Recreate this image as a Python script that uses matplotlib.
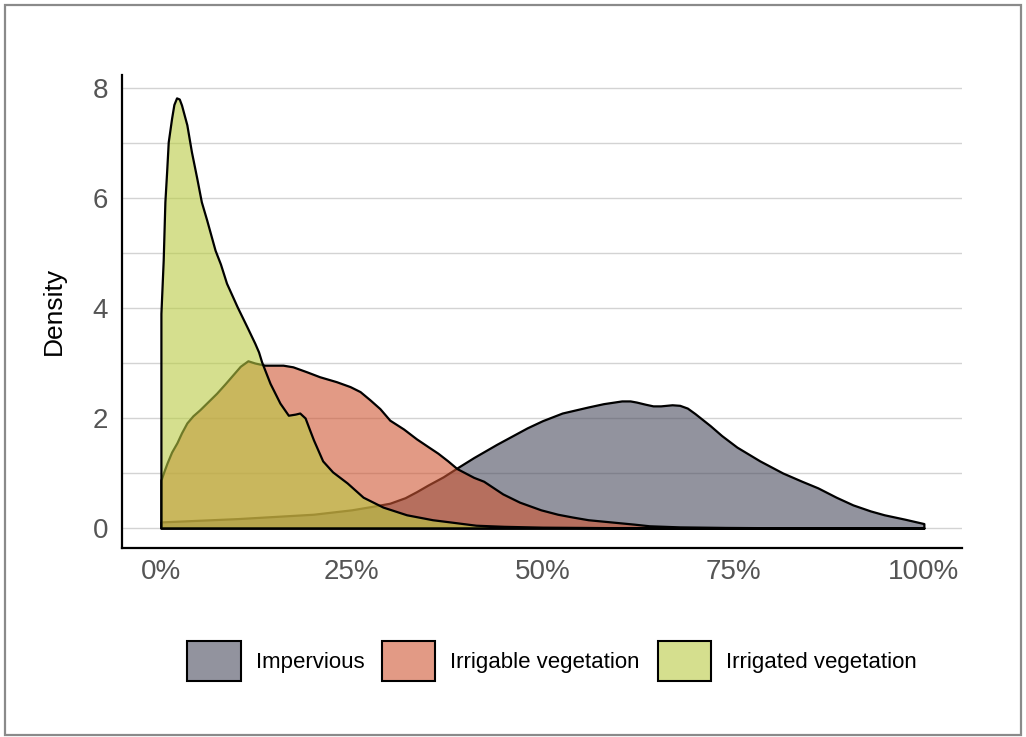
import matplotlib
matplotlib.use("Agg")
import matplotlib.pyplot as plt
from matplotlib.patches import Patch, Rectangle
from matplotlib.ticker import MultipleLocator

# ---- data (x as share 0..1, y density) ----
imp_x = [0, 0.05, 0.10, 0.15, 0.20, 0.25, 0.28, 0.30, 0.32, 0.335, 0.35, 0.37, 0.388,
         0.41, 0.44, 0.48, 0.50, 0.526, 0.56, 0.58, 0.604, 0.615, 0.623, 0.635, 0.645,
         0.655, 0.67, 0.68, 0.69, 0.70, 0.71, 0.72, 0.735, 0.755, 0.785, 0.815, 0.84,
         0.861, 0.885, 0.907, 0.93, 0.948, 0.975, 1.0]
imp_y = [0.11, 0.14, 0.17, 0.21, 0.25, 0.33, 0.40, 0.45, 0.55, 0.66, 0.78, 0.93, 1.09,
         1.28, 1.52, 1.82, 1.95, 2.09, 2.20, 2.26, 2.31, 2.31, 2.29, 2.25, 2.22,
         2.22, 2.24, 2.23, 2.18, 2.08, 1.97, 1.86, 1.68, 1.47, 1.22, 1.00, 0.85,
         0.73, 0.56, 0.42, 0.31, 0.24, 0.16, 0.08]

irb_x = [0, 0.004, 0.008, 0.014, 0.021, 0.027, 0.034, 0.042, 0.051, 0.062, 0.073,
         0.084, 0.094, 0.104, 0.114, 0.123, 0.136, 0.16, 0.173, 0.191, 0.208, 0.23,
         0.248, 0.261, 0.274, 0.287, 0.30, 0.318, 0.335, 0.35, 0.363, 0.376, 0.388,
         0.41, 0.423, 0.448, 0.47, 0.498, 0.52, 0.539, 0.56, 0.59, 0.62, 0.64, 0.68,
         0.74, 0.80, 0.90, 1.0]
irb_y = [0.87, 1.03, 1.18, 1.38, 1.55, 1.73, 1.91, 2.04, 2.15, 2.30, 2.45,
         2.62, 2.78, 2.94, 3.04, 3.00, 2.96, 2.96, 2.93, 2.84, 2.75, 2.66,
         2.57, 2.48, 2.33, 2.17, 1.96, 1.80, 1.62, 1.48, 1.36, 1.22, 1.08,
         0.92, 0.85, 0.62, 0.47, 0.33, 0.25, 0.20, 0.15, 0.11, 0.07, 0.04, 0.02,
         0.01, 0.005, 0.002, 0.0]

irr_x = [0, 0.003, 0.0052, 0.0075, 0.0096, 0.014, 0.017, 0.0205, 0.024, 0.027, 0.034,
         0.040, 0.047, 0.053, 0.06, 0.071, 0.078, 0.086, 0.10, 0.113, 0.123, 0.128,
         0.132, 0.143, 0.156, 0.167, 0.176, 0.182, 0.189, 0.195, 0.20, 0.212, 0.225,
         0.244, 0.265, 0.291, 0.322, 0.356, 0.379, 0.413, 0.45, 0.50, 0.60, 0.80, 1.0]
irr_y = [3.9, 4.87, 5.93, 6.48, 7.02, 7.45, 7.70, 7.82, 7.80, 7.69, 7.33,
         6.84, 6.36, 5.93, 5.60, 5.05, 4.80, 4.45, 4.02, 3.65, 3.36, 3.20,
         3.02, 2.63, 2.27, 2.05, 2.07, 2.09, 2.00, 1.78, 1.60, 1.22, 1.02,
         0.82, 0.56, 0.38, 0.24, 0.15, 0.11, 0.05, 0.03, 0.015, 0.005, 0.0, 0.0]

series_names = ["Impervious", "Irrigable vegetation", "Irrigated vegetation"]
series_colors = [(73/255, 75/255, 93/255), (207/255, 87/255, 52/255), (185/255, 203/255, 67/255)]
ALPHA = 0.6

x_ticks = [0, 0.25, 0.5, 0.75, 1.0]
x_tick_labels = ["0%", "25%", "50%", "75%", "100%"]
y_ticks = [0, 2, 4, 6, 8]

plt.rcParams['font.family'] = ['Liberation Sans', 'DejaVu Sans']

W, H = 1026, 737
fig = plt.figure(figsize=(W / 100, H / 100), dpi=100)
ax = fig.add_axes([122 / W, 1 - 548 / H, (962 - 122) / W, (548 - 75) / H])

for xs, ys, c in zip([imp_x, irb_x, irr_x], [imp_y, irb_y, irr_y], series_colors):
    ax.fill_between(xs, 0, ys, facecolor=(*c, ALPHA), edgecolor='black',
                    linewidth=1.6, joinstyle='round', zorder=3)

ax.set_xlim(-0.051, 1.05)
ax.set_ylim(-0.364, 8.236)
ax.set_xticks(x_ticks)
ax.set_xticklabels(x_tick_labels)
ax.set_yticks(y_ticks)
ax.yaxis.set_minor_locator(MultipleLocator(1))
ax.tick_params(axis='both', which='both', length=0, labelsize=20, labelcolor='#555555')
ax.tick_params(axis='x', pad=8)
ax.tick_params(axis='y', pad=10)

ax.set_axisbelow(True)
ax.yaxis.grid(True, which='both', color='#d3d3d3', linewidth=1.0)
ax.xaxis.grid(False)

for s in ['top', 'right']:
    ax.spines[s].set_visible(False)
for s in ['left', 'bottom']:
    ax.spines[s].set_color('black')
    ax.spines[s].set_linewidth(1.6)

fig.text(54 / W, 1 - 311 / H, "Density", rotation=90, ha='center', va='center',
         fontsize=19, color='black')

handles = [Patch(facecolor=(*c, ALPHA), edgecolor='black', linewidth=1.5)
           for c in series_colors]
fig.legend(handles, series_names, loc='center', ncol=3,
           bbox_to_anchor=(552 / W, 1 - 661 / H), frameon=False, fontsize=16,
           handlelength=2.39, handleheight=2.39, handletextpad=0.68,
           columnspacing=0.8, borderaxespad=0)

fig.patches.append(Rectangle((5 / W, 2 / H), 1016 / W, 730 / H, transform=fig.transFigure,
                             fill=False, edgecolor='#8a8a8a', linewidth=1.6))

fig.savefig("out.png", dpi=100)
